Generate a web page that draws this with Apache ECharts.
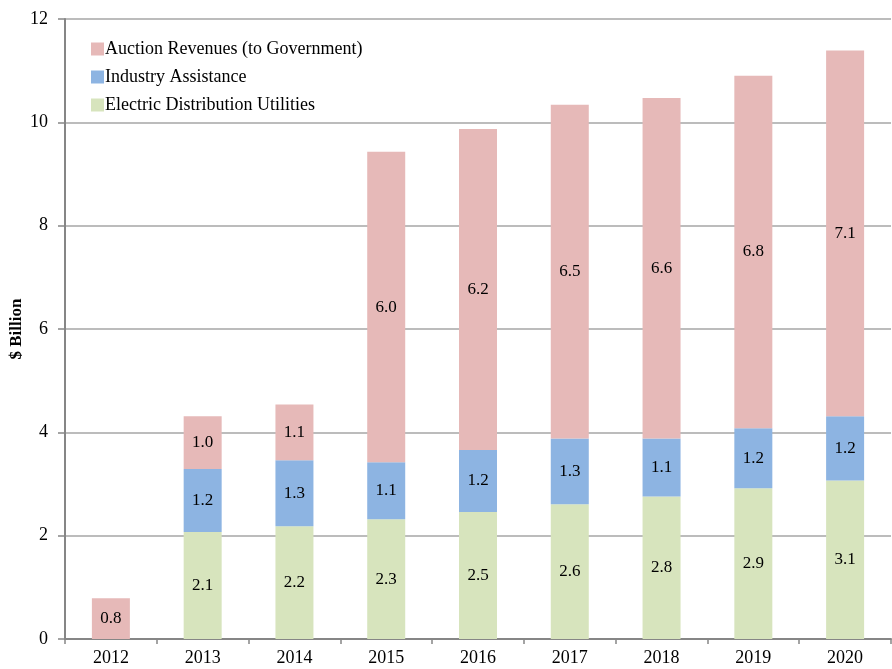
<!DOCTYPE html>
<html><head><meta charset="utf-8">
<script src="https://cdn.jsdelivr.net/npm/echarts@6/dist/echarts.min.js"></script>
<style>html,body{margin:0;padding:0;background:#fff}#c{width:892px;height:669px}</style>
</head><body><div id="c"></div>
<script>
const years = ['2012','2013','2014','2015','2016','2017','2018','2019','2020'];
const utilities = [null, 2.07, 2.18, 2.32, 2.46, 2.61, 2.76, 2.92, 3.07];
const industry = [null, 1.22, 1.28, 1.10, 1.20, 1.27, 1.12, 1.16, 1.24];
const auction = [0.79, 1.02, 1.08, 6.01, 6.21, 6.46, 6.59, 6.82, 7.08];
const yTicks = [0, 2, 4, 6, 8, 10, 12];

const font = 'Liberation Serif';
const label = {show: true, position: 'inside', color: '#000', fontFamily: font, fontSize: 17,
  formatter: p => (p.value == null ? '' : Number(p.value).toFixed(1))};
const chart = echarts.init(document.getElementById('c'));
chart.setOption({
  animation: false,
  grid: {left: 65, top: 19, right: 1, bottom: 30, containLabel: false, outerBoundsMode: 'none'},
  legend: {
    orient: 'vertical', left: 86, top: 35, itemWidth: 13, itemHeight: 13, itemGap: 10,
    icon: 'rect',
    textStyle: {fontFamily: font, fontSize: 18, color: '#000', padding: [0,0,0,-4]},
    data: ['Auction Revenues (to Government)', 'Industry Assistance', 'Electric Distribution Utilities']
  },
  xAxis: {
    type: 'category', data: years,
    axisLine: {lineStyle: {color: '#868686', width: 2}},
    axisTick: {show: true, length: 5, lineStyle: {color: '#868686', width: 1.5}},
    axisLabel: {color: '#000', fontFamily: font, fontSize: 18, margin: 10}
  },
  yAxis: {
    type: 'value', min: yTicks[0], max: yTicks[yTicks.length-1], interval: 2,
    name: '$ Billion', nameLocation: 'middle', nameGap: 40, nameRotate: 90, nameMoveOverlap: false,
    nameTextStyle: {fontFamily: font, fontSize: 17, fontWeight: 'bold', color: '#000'},
    axisLine: {show: true, lineStyle: {color: '#868686', width: 2}},
    axisTick: {show: true, length: 7, lineStyle: {color: '#868686', width: 1.5}},
    axisLabel: {color: '#000', fontFamily: font, fontSize: 18, margin: 17},
    splitLine: {lineStyle: {color: '#a6a6a6', width: 1.5}}
  },
  series: [
    {name: 'Electric Distribution Utilities', type: 'bar', stack: 's', data: utilities, barWidth: 38,
     itemStyle: {color: '#d7e4bd'}, label},
    {name: 'Industry Assistance', type: 'bar', stack: 's', data: industry, barWidth: 38,
     itemStyle: {color: '#8db4e2'}, label},
    {name: 'Auction Revenues (to Government)', type: 'bar', stack: 's', data: auction, barWidth: 38,
     itemStyle: {color: '#e6b9b8'}, label}
  ]
});
</script></body></html>
